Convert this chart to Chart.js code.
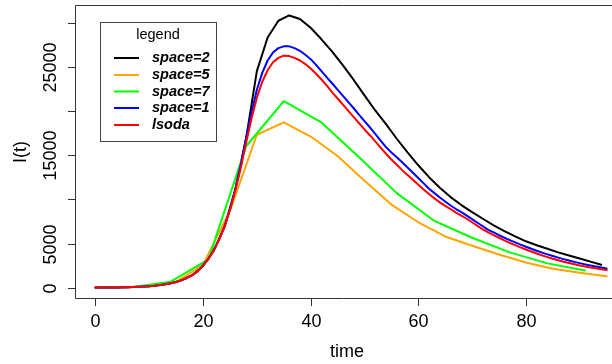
<!DOCTYPE html>
<html>
<head>
<meta charset="utf-8">
<script src="https://cdn.jsdelivr.net/npm/chart.js@4/dist/chart.umd.min.js"></script>
<style>
  html, body { margin: 0; padding: 0; background: #fff; }
</style>
</head>
<body>
<canvas id="myChart" width="612" height="364"></canvas>
<script>
// tempos de cada serie
const timeDaily = [0,1,2,3,4,5,6,7,8,9,10,11,12,13,14,15,16,17,18,19,20,21,22,23,24,25,26,27,28,29,
  30,31,32,33,34,35,36,37,38,39,40,41,42,43,44,45,46,47,48,49,50,51,52,53,54,55,56,57,58,59,
  60,61,62,63,64,65,66,67,68,69,70,71,72,73,74,75,76,77,78,79,80,81,82,83,84,85,86,87,88,89,
  90,91,92,93,94,95];
const timeSpace2 = [0,2,4,6,8,10,12,14,16,18,20,22,24,26,28,30,32,34,36,38,40,42,44,46,48,
  50,52,54,56,58,60,62,64,66,68,70,72,74,76,78,80,82,84,86,88,90,92,94];
const timeSpace5 = [0,5,10,15,20,25,30,35,40,45,50,55,60,65,70,75,80,85,90,95];
const timeSpace7 = [0,7,14,21,28,35,42,49,56,63,70,77,84,91];

// valores de I(t)
const space2 = [10,19,33,58,100,172,295,500,850,1430,2450,4200,6900,11100,16900,24500,28300,30200,
  30800,30400,29400,28100,26700,25150,23500,21750,20050,18500,16850,15300,13850,12500,11300,10250,
  9350,8550,7800,7050,6400,5800,5250,4800,4400,4000,3650,3300,2950,2600];
const space5 = [10,44,172,650,2600,8700,17300,18700,17100,14900,12100,9400,7400,5800,4750,3750,2850,2150,1700,1300];
const space7 = [10,80,680,3200,16000,21100,18700,14750,10700,7550,5650,4000,2750,1950];
const space1 = [10,14,19,25,33,44,58,77,100,132,172,225,295,385,500,650,850,1100,1430,1850,
  2550,3300,4300,5500,7000,8900,11200,13900,16900,19800,22400,24300,25700,26600,27100,27300,27300,27100,26800,26350,
  25850,25200,24500,23800,23100,22400,21700,21000,20300,19550,18850,18150,17400,16650,15900,15300,14750,14200,13600,13000,
  12400,11800,11200,10700,10200,9750,9300,8900,8550,8150,7750,7350,6950,6550,6250,5950,5650,5380,5120,4870,
  4630,4400,4180,3970,3770,3580,3400,3230,3070,2920,2780,2640,2510,2390,2280,2180];
const lsoda = [10,14,19,25,33,44,58,77,100,132,172,225,295,385,500,650,850,1100,1430,1850,
  2500,3250,4250,5450,6900,8800,11000,13500,16400,19100,21500,23300,24600,25500,26000,26250,26200,26000,25700,25300,
  24800,24200,23550,22850,22100,21400,20700,20000,19300,18600,17900,17250,16550,15850,15150,14500,13900,13300,12750,12200,
  11650,11100,10600,10100,9650,9250,8900,8500,8150,7800,7400,7000,6600,6250,5950,5650,5350,5080,4820,4560,
  4320,4090,3870,3660,3460,3270,3100,2940,2790,2650,2520,2400,2290,2190,2090,2000];

// ticks dos eixos
const xTicks = [0, 20, 40, 60, 80];
const yTicks = [0, 5000, 10000, 15000, 20000, 25000, 30000];
const yTickLabels = ['0', '5000', '', '15000', '', '25000', ''];

const FONT = '"Liberation Sans", Arial, sans-serif';

function pares(ts, vs) {
  return ts.map((t, i) => ({ x: t, y: vs[i] }));
}

function serie(label, cor, ts, vs, ordem) {
  return {
    label: label,
    data: pares(ts, vs),
    borderColor: cor,
    borderWidth: 2,
    pointRadius: 0,
    tension: 0,
    fill: false,
    borderJoinStyle: 'round',
    borderCapStyle: 'round',
    order: ordem
  };
}

// Desenha caixa, eixos, titulos e legenda no estilo do R
const eixosR = {
  id: 'eixosR',
  afterDraw(chart) {
    const ctx = chart.ctx;
    const a = chart.chartArea;
    const sx = chart.scales.x;
    const sy = chart.scales.y;
    ctx.save();
    ctx.strokeStyle = '#333';
    ctx.lineWidth = 1;
    ctx.beginPath();
    ctx.moveTo(612, a.top + 0.5);
    ctx.lineTo(a.left + 0.5, a.top + 0.5);
    ctx.lineTo(a.left + 0.5, a.bottom + 0.5);
    ctx.lineTo(612, a.bottom + 0.5);
    ctx.stroke();

    ctx.fillStyle = '#000';
    ctx.font = '18px ' + FONT;
    ctx.textAlign = 'center';
    ctx.textBaseline = 'middle';

    xTicks.forEach(t => {
      const px = Math.round(sx.getPixelForValue(t)) + 0.5;
      ctx.beginPath();
      ctx.moveTo(px, a.bottom);
      ctx.lineTo(px, a.bottom + 8);
      ctx.stroke();
      ctx.fillText(String(t), px, 322);
    });

    yTicks.forEach((v, i) => {
      const py = Math.round(sy.getPixelForValue(v)) + 0.5;
      ctx.beginPath();
      ctx.moveTo(a.left, py);
      ctx.lineTo(a.left - 7, py);
      ctx.stroke();
      if (yTickLabels[i]) {
        ctx.save();
        ctx.translate(51, py);
        ctx.rotate(-Math.PI / 2);
        ctx.fillText(yTickLabels[i], 0, 0);
        ctx.restore();
      }
    });

    ctx.fillText('time', 347, 352);
    ctx.save();
    ctx.translate(21, 152);
    ctx.rotate(-Math.PI / 2);
    ctx.fillText('I(t)', 0, 0);
    ctx.restore();

    // legenda
    ctx.strokeStyle = '#444';
    ctx.strokeRect(100.5, 22.5, 116, 119);
    ctx.font = '14.5px ' + FONT;
    ctx.fillText('legend', 158, 35);
    const ordem = [0, 1, 2, 3, 4];
    const linhas = [58, 75, 91.5, 108, 125];
    ctx.font = 'italic bold 14.5px ' + FONT;
    ctx.textAlign = 'left';
    ordem.forEach((k, i) => {
      const ds = chart.data.datasets[k];
      ctx.strokeStyle = ds.borderColor;
      ctx.lineWidth = 2;
      ctx.beginPath();
      ctx.moveTo(114, linhas[i]);
      ctx.lineTo(139, linhas[i]);
      ctx.stroke();
      ctx.fillText(ds.label, 152, linhas[i]);
    });
    ctx.restore();
  }
};

const grafico = document.getElementById('myChart');
new Chart(grafico, {
  type: 'line',
  data: {
    datasets: [
      serie('space=2', '#000000', timeSpace2, space2, 4),
      serie('space=5', '#FFA500', timeSpace5, space5, 3),
      serie('space=7', '#00FF00', timeSpace7, space7, 2),
      serie('space=1', '#0000FF', timeDaily, space1, 1),
      serie('lsoda', '#FF0000', timeDaily, lsoda, 0)
    ]
  },
  options: {
    responsive: false,
    animation: false,
    devicePixelRatio: 1,
    layout: { padding: { left: 75, top: 5, right: 0, bottom: 66 } },
    plugins: { legend: { display: false }, tooltip: { enabled: false } },
    scales: {
      x: { type: 'linear', min: -3.8, max: 96.0, display: false },
      y: { type: 'linear', min: -1165, max: 31980, display: false }
    }
  },
  plugins: [eixosR]
});
</script>
</body>
</html>
